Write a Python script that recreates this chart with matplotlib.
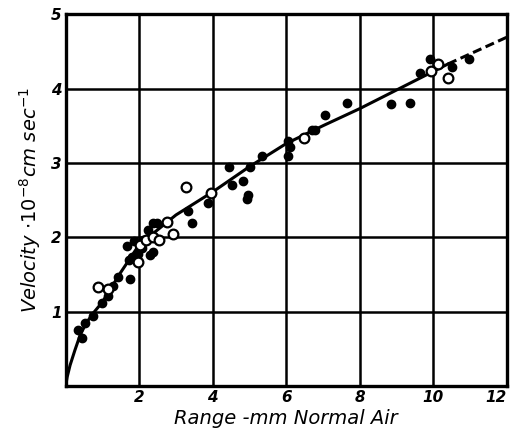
import matplotlib.pyplot as plt

# filled circles (range mm, velocity 10^8 cm/s)
filled_x = [0.34, 0.44, 0.53, 0.75, 0.98, 1.16, 1.28, 1.41, 1.66, 1.75, 1.71, 1.80,
            1.86, 1.98, 2.07, 2.11, 2.25, 2.29, 2.37, 2.37, 2.49, 3.34, 3.43, 3.88,
            4.45, 4.52, 4.82, 4.93, 4.97, 5.02, 5.35, 6.06, 6.09, 6.04, 6.69, 6.78,
            7.06, 7.66, 8.85, 9.37, 9.64, 9.91, 10.50, 10.98]
filled_y = [0.75, 0.64, 0.85, 0.94, 1.12, 1.21, 1.34, 1.47, 1.88, 1.44, 1.69, 1.73,
            1.95, 1.78, 1.85, 1.96, 2.10, 1.76, 1.80, 2.19, 2.19, 2.36, 2.19, 2.46,
            2.94, 2.70, 2.75, 2.52, 2.57, 2.94, 3.09, 3.30, 3.22, 3.09, 3.44, 3.44,
            3.64, 3.81, 3.79, 3.80, 4.21, 4.39, 4.29, 4.39]

# open circles
open_x = [0.89, 1.16, 1.96, 2.02, 2.19, 2.37, 2.55, 2.75, 2.93, 3.27, 3.95, 6.49,
          9.93, 10.14, 10.39]
open_y = [1.33, 1.31, 1.67, 1.90, 1.97, 2.00, 1.97, 2.21, 2.04, 2.68, 2.60, 3.33,
          4.24, 4.33, 4.14]

# curve
curve_x = [0.0, 0.04, 0.12, 0.25, 0.39, 0.55, 0.75, 1.0, 1.5, 2.0, 3.0, 4.0, 5.0,
           6.0, 7.0, 8.0, 9.0, 10.0, 10.4]
curve_y = [0.0, 0.12, 0.28, 0.48, 0.68, 0.84, 0.98, 1.13, 1.53, 1.9, 2.3, 2.61, 2.95,
           3.26, 3.5, 3.73, 3.98, 4.23, 4.33]
dash_x = [10.4, 12.0]
dash_y = [4.33, 4.69]

fig = plt.figure(figsize=(5.13, 4.28), dpi=100)
ax = fig.add_axes([0.128, 0.098, 0.86, 0.869])

ax.plot(curve_x, curve_y, color="black", lw=2.2, zorder=3)
ax.plot(dash_x, dash_y, color="black", lw=2.2, ls=(0, (3, 1.5)), zorder=3)
ax.plot(filled_x, filled_y, "o", color="black", ms=6, zorder=4)
ax.plot(open_x, open_y, "o", mfc="white", mec="black", mew=1.6, ms=7, zorder=5)

ax.set_xlim(0, 12)
ax.set_ylim(0, 5)
ax.set_xticks([2, 4, 6, 8, 10, 12])
ax.set_yticks([1, 2, 3, 4, 5])
ax.grid(True, color="black", lw=1.8)
for s in ax.spines.values():
    s.set_linewidth(2.4)
ax.tick_params(length=0, pad=3)
for lab in ax.get_xticklabels() + ax.get_yticklabels():
    lab.set_fontsize(11)
    lab.set_fontweight("bold")
    lab.set_fontstyle("italic")
ax.get_xticklabels()[-1].set_ha("right")  # keep "12" inside the figure

ax.set_xlabel("Range -mm Normal Air", fontsize=14, fontstyle="italic", labelpad=3)
ax.set_ylabel(r"Velocity $\cdot 10^{-8}$cm sec$^{-1}$", fontsize=14,
              fontstyle="italic", labelpad=6)

fig.savefig("out.png", dpi=100)
